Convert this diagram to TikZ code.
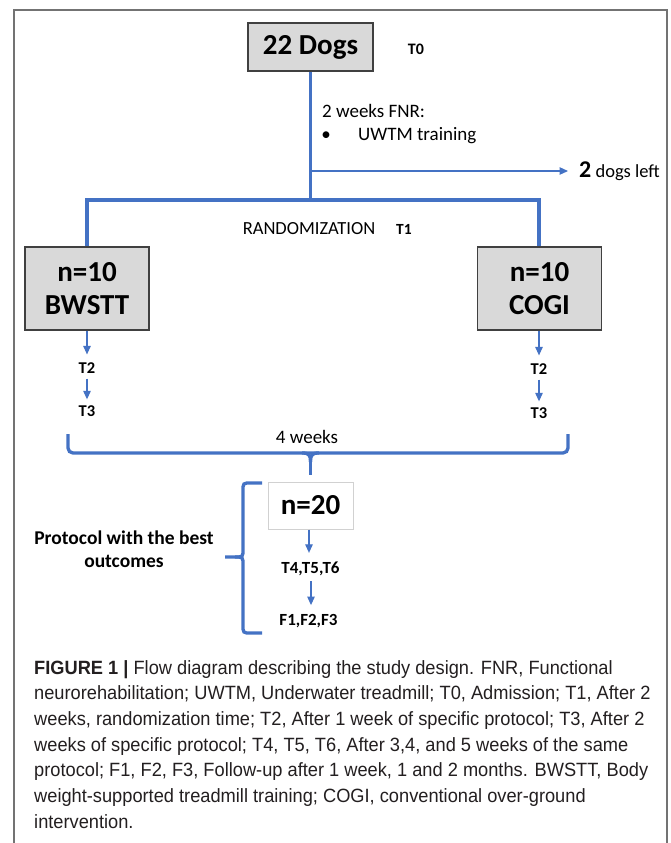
\documentclass[tikz,border=0pt]{standalone}
\usepackage{fontspec}
\setmainfont{Carlito}
\newfontfamily\capfont[FakeStretch=0.95]{Liberation Sans}
\usetikzlibrary{arrows.meta}
\definecolor{cblue}{HTML}{4472C4}
\definecolor{boxgray}{HTML}{D9D9D9}
\definecolor{captxt}{HTML}{231F20}
\begin{document}
\begin{tikzpicture}[x=1pt,y=-1pt,
  graybox/.style={draw=black!75, line width=1.1pt, fill=boxgray, inner sep=0pt, align=center,
    font=\bfseries\fontsize{29}{33}\selectfont},
  whitebox/.style={draw=black!18, line width=1pt, fill=white, inner sep=0pt,
    font=\bfseries\fontsize{29}{33}\selectfont},
  bluethick/.style={draw=cblue, line width=3.3pt},
  thinarrow/.style={draw=cblue, line width=1.1pt, -{Triangle[length=8.5pt,width=7.5pt]}},
  tlbl/.style={inner sep=0pt, font=\bfseries\fontsize{16.5}{18}\selectfont},
  txt/.style={inner sep=0pt, font=\fontsize{19}{22}\selectfont},
]
\useasboundingbox (0,0) rectangle (670,843);
\fill[white] (0,0) rectangle (670,843);
\draw[black!55, line width=1.2pt] (14,843) -- (14,10) -- (667,10) -- (667,843);

% top box
\node[graybox, minimum width=125pt, minimum height=48pt] (dogs) at (310.5,47) {22 Dogs};
\node[tlbl, font=\bfseries\fontsize{16}{18}\selectfont] (t0) at (416,49) {T0};

% FNR text
\node[txt, anchor=west] (fnr) at (322,111) {2 weeks FNR:};
\node[txt, anchor=center] (bul) at (326,136) {•};
\node[txt, anchor=west] (uwtm) at (358,136) {UWTM training};

% left dogs
\node[txt, anchor=west, font=\fontsize{18.5}{22}\selectfont] (left) at (579,171) {{\bfseries\fontsize{24}{24}\selectfont 2} dogs left};
\coordinate (a0) at (310.5,171);
\draw[thinarrow] (a0) -- ([xshift=-11pt]left.west);

% tree
\coordinate (split) at (310.5,200);
\coordinate (lft) at (87,200);
\coordinate (rgt) at (539,200);
\node[graybox, minimum width=124pt, minimum height=83pt] (bwstt) at (87,288.5) {n=10\\BWSTT};
\node[graybox, minimum width=124pt, minimum height=83pt] (cogi) at (539.5,288.5) {n=10\\COGI};
\draw[bluethick] (dogs.south) -- (split);
\draw[bluethick] (bwstt.north) -- (lft) -- (rgt) -- (cogi.north -| rgt);

\node[txt, font=\fontsize{18.5}{22}\selectfont] (rand) at (309,229) {RANDOMIZATION};
\node[tlbl, font=\bfseries\fontsize{15.5}{18}\selectfont] (t1) at (404,229) {T1};

% T2 T3
\node[tlbl] (t2l) at (87,368) {T2};
\node[tlbl] (t3l) at (87,411) {T3};
\node[tlbl] (t2r) at (539,369) {T2};
\node[tlbl] (t3r) at (539,413) {T3};
\draw[thinarrow] (bwstt.south) -- ([yshift=8pt]t2l.north);
\draw[thinarrow] ([yshift=-5pt]t2l.south) -- ([yshift=6pt]t3l.north);
\draw[thinarrow] (cogi.south -| t2r) -- ([yshift=8pt]t2r.north);
\draw[thinarrow] ([yshift=-5pt]t2r.south) -- ([yshift=6pt]t3r.north);

% 4 weeks bracket
\node[txt] (four) at (307,437) {4 weeks};
\coordinate (bl) at (68,434);
\coordinate (br) at (568,434);
\draw[bluethick, rounded corners=5pt] (bl) -- (68,453) -- (568,453) -- (br);
\node[whitebox, minimum width=85pt, minimum height=47pt] (n20) at (310.5,505.5) {n=20};
\coordinate (tk) at (310.5,462);
\draw[bluethick] (302,453) .. controls (309,453) and (310.5,455) .. (tk);
\draw[bluethick] (319,453) .. controls (312,453) and (310.5,455) .. (tk);
\draw[bluethick] (tk) -- ([yshift=7pt]n20.north);

% T4 F1
\node[tlbl, font=\bfseries\fontsize{17}{18}\selectfont] (t456) at (310.5,569) {T4,T5,T6};
\node[tlbl, font=\bfseries\fontsize{17}{18}\selectfont] (f123) at (308.5,621) {F1,F2,F3};
\draw[thinarrow] (n20.south -| 309,0) -- ([yshift=9pt]t456.north -| 309,0);
\draw[thinarrow] ([yshift=-5pt]t456.south -| 311,0) -- ([yshift=9pt]f123.north -| 311,0);

% curly brace
\coordinate (tip) at (225,557);
\draw[bluethick] (262,483) -- (251,483) .. controls (243,483) .. (243,491) -- (243,549)
  .. controls (243,557) .. (235,557) -- (tip);
\draw[bluethick] (235,557) .. controls (243,557) .. (243,565) -- (243,625)
  .. controls (243,633) .. (251,633) -- (262,633);
\node[inner sep=0pt, align=center, font=\bfseries\fontsize{19.5}{23}\selectfont] (prot) at (124,549)
  {Protocol with the best\\outcomes};

% caption
\node[inner sep=0pt, anchor=north west, align=left, text=captxt,
  font=\capfont\fontsize{19.2}{25.7}\selectfont] (cap) at (34,660)
  {\textbf{FIGURE 1 |} Flow diagram describing the study design. FNR, Functional\\
   neurorehabilitation; UWTM, Underwater treadmill; T0, Admission; T1, After 2\\
   weeks, randomization time; T2, After 1 week of specific protocol; T3, After 2\\
   weeks of specific protocol; T4, T5, T6, After 3,4, and 5 weeks of the same\\
   protocol; F1, F2, F3, Follow-up after 1 week, 1 and 2 months. BWSTT, Body\\
   weight-supported treadmill training; COGI, conventional over-ground\\
   intervention.};
\end{tikzpicture}
\end{document}
